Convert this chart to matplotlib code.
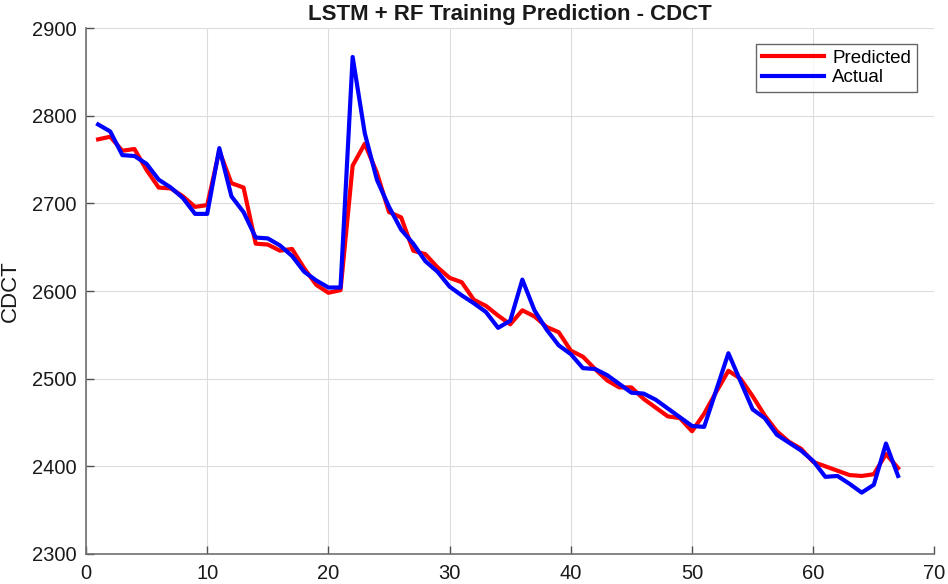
import matplotlib
matplotlib.use('Agg')
import matplotlib.pyplot as plt
import numpy as np

# sample index 1..67
samples = np.arange(1, 68)

actual = [2790, 2782, 2755, 2754, 2745, 2727, 2718, 2706, 2688, 2688,
          2763, 2708, 2690, 2661, 2660, 2652, 2640, 2622, 2612, 2604,
          2604, 2867, 2780, 2727, 2696, 2670, 2654, 2634, 2622, 2605,
          2595, 2586, 2576, 2558, 2566, 2613, 2578, 2556, 2538, 2528,
          2512, 2511, 2504, 2494, 2484, 2483, 2476, 2466, 2456, 2446,
          2445, 2487, 2529, 2497, 2465, 2455, 2436, 2427, 2418, 2406,
          2388, 2389, 2380, 2370, 2379, 2426, 2389]

predicted = [2773, 2776, 2760, 2762, 2738, 2718, 2717, 2708, 2696, 2698,
             2760, 2723, 2718, 2654, 2653, 2646, 2648, 2626, 2607, 2598,
             2601, 2743, 2768, 2735, 2690, 2684, 2646, 2642, 2627, 2615,
             2610, 2590, 2583, 2572, 2562, 2578, 2571, 2559, 2553, 2532,
             2525, 2511, 2498, 2490, 2490, 2477, 2467, 2457, 2455, 2440,
             2460, 2485, 2509, 2500, 2480, 2458, 2440, 2428, 2420, 2405,
             2400, 2395, 2390, 2389, 2391, 2414, 2398]

plt.rcParams['font.family'] = ['Liberation Sans', 'DejaVu Sans']

fig = plt.figure(figsize=(9.48, 5.84), dpi=100)
ax = fig.add_axes([0.0907, 0.0514, 0.895, 0.9006])

ax.plot(samples, predicted, color='#ff0000', lw=3, label='Predicted')
ax.plot(samples, actual, color='#0000ff', lw=3, label='Actual')

ax.set_xlim(0, 70)
ax.set_ylim(2300, 2900)
ax.set_xticks(np.arange(0, 71, 10))
ax.set_yticks(np.arange(2300, 2901, 100))
ax.grid(True, color='#dcdcdc', lw=0.8)
ax.set_axisbelow(True)

for side in ['top', 'right']:
    ax.spines[side].set_visible(False)
for side in ['left', 'bottom']:
    ax.spines[side].set_color('#707070')
    ax.spines[side].set_linewidth(1.2)
ax.tick_params(direction='in', length=6, width=1, color='#505050',
               labelsize=14.5, labelcolor='#1a1a1a')
ax.tick_params(axis='y', pad=7)
ax.tick_params(axis='x', pad=7)

ax.set_ylabel('CDCT', fontsize=16, color='#1a1a1a', labelpad=8)
ax.set_title('LSTM + RF Training Prediction - CDCT', fontsize=16,
             fontweight='bold', color='#1a1a1a', pad=6)

leg = ax.legend(loc='upper right', fontsize=13.5, frameon=True, fancybox=False,
                edgecolor='#404040', handlelength=3.3, borderpad=0.3,
                labelspacing=0.15, handletextpad=0.45, borderaxespad=0,
                bbox_to_anchor=(0.979, 0.97))
leg.get_frame().set_linewidth(1.0)

fig.savefig('out.png', dpi=100)
